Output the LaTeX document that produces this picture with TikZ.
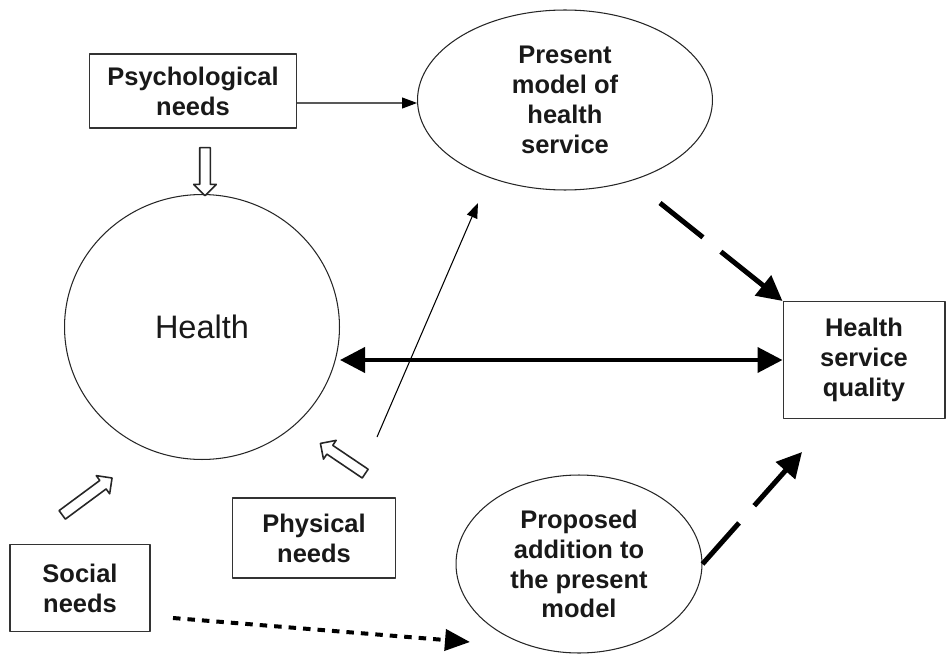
\documentclass[tikz,border=0pt]{standalone}
\usepackage{fontspec}
\setmainfont{Liberation Sans}
\usetikzlibrary{arrows.meta}
\usetikzlibrary{shapes.geometric}
\usetikzlibrary{shapes.arrows}

\begin{document}
\begin{tikzpicture}[x=0.02cm, y=-0.02cm, line join = round, >={Triangle[length=0.3cm, width=0.22cm]}]
\tikzstyle{label}=[font=\bfseries\fontsize{14.5}{17}\selectfont, align=center, text=black!90]
\tikzstyle{needbox}=[label, rectangle, draw=black!80, line width=0.6pt, inner sep=0]
\tikzstyle{oval}=[label, ellipse, draw=black!85, line width=0.6pt, inner sep=0]
\tikzstyle{hollow}=[single arrow, draw=black!85, line width=0.9pt, fill=white, inner xsep=0, inner ysep=0.09cm,
  single arrow head extend=0.12cm]
\tikzstyle{bigtip}=[line width=0.1cm, line cap=butt, dash pattern=on 1.1cm off 0.46cm,
  -{Triangle[length=0.5cm, width=0.5cm]}]
\useasboundingbox (0,0) rectangle (946,655);

\node[needbox, minimum width=4.14cm, minimum height=1.48cm] (psych) at (193,91) {Psychological\\needs};
\node[oval, minimum width=5.9cm, minimum height=3.6cm] (present) at (565,100) {Present\\model of\\health\\service};
\node[ellipse, draw=black!85, line width=0.6pt, inner sep=0, minimum width=5.5cm, minimum height=5.3cm,
  font=\fontsize{18.5}{22}\selectfont, text=black!90] (health) at (202,327) {Health};
\node[needbox, minimum width=3.24cm, minimum height=2.34cm] (quality) at (864,360) {Health\\service\\quality};
\node[needbox, minimum width=3.26cm, minimum height=1.6cm] (physical) at (314,538) {Physical\\needs};
\node[needbox, minimum width=2.8cm, minimum height=1.74cm] (social) at (80,588) {Social\\needs};
\node[oval, minimum width=4.92cm, minimum height=3.56cm] (proposed) at (579,564) {Proposed\\addition to\\the present\\model};

% hollow arrows into health
\node[hollow, rotate=-90, minimum height=0.96cm] (psycharrow) at (205,169) {};
\node[hollow, rotate=146, minimum height=1.08cm] (physarrow) at (345,460) {};
\node[hollow, rotate=36.5, minimum height=1.24cm] (socialarrow) at (85,498) {};

% free ends
\coordinate (risefoot) at (377,437);
\coordinate (risehead) at (478,203);
\coordinate (presentfoot) at (660,203);
\coordinate (qualityfoot) at (802,452);
\coordinate (socialfoot) at (173,618);
\coordinate (proposedfoot) at (470,642);

\draw[line width=0.6pt, ->] ([yshift=-0.24cm]psych.east) -- ([yshift=-0.06cm]present.west);
\draw[line width=0.6pt, ->] (risefoot) -- (risehead);
\draw[line width=0.08cm, {Triangle[length=0.5cm, width=0.5cm]}-{Triangle[length=0.5cm, width=0.5cm]}]
  (health.east |- quality.west) -- (quality.west);
\draw[bigtip] (presentfoot) -- (quality.north west);
\draw[bigtip] (proposed.east) -- (qualityfoot);
\draw[line width=0.08cm, dash pattern=on 0.15cm off 0.14cm, -{Triangle[length=0.5cm, width=0.42cm]}]
  (socialfoot) -- (proposedfoot);
\end{tikzpicture}
\end{document}
